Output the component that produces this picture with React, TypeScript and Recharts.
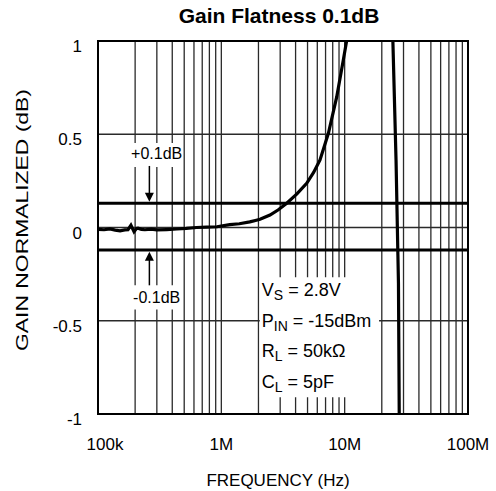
import { LineChart, Line, XAxis, YAxis, CartesianGrid, ReferenceLine, ReferenceArea } from 'recharts'

// frequency (Hz) and normalized gain (dB)
const freqHz = [
  1.0e5, 1.12e5, 1.25e5, 1.38e5, 1.51e5, 1.65e5, 1.75e5, 1.85e5, 1.96e5, 2.05e5, 2.11e5, 2.25e5,
  2.4e5, 2.7e5, 3.0e5, 3.6e5, 4.35e5, 5.2e5, 6.3e5, 7.6e5, 9.2e5, 1.17e6, 1.4e6, 1.7e6, 2.06e6,
  2.48e6, 2.9e6, 3.39e6, 4.1e6, 4.92e6, 5.6e6, 6.31e6, 7.38e6, 8.62e6, 9.75e6, 1.04e7, 1.3e7,
  1.7e7, 2.2e7, 2.46e7, 2.61e7, 2.73e7, 2.77e7, 2.8e7,
]
const gainDb = [
  -0.01, -0.012, -0.008, -0.014, -0.018, -0.013, -0.012, 0.012, -0.022, -0.005, -0.004, -0.01,
  -0.012, -0.009, -0.013, -0.011, -0.008, -0.005, 0.0, 0.002, 0.004, 0.015, 0.02, 0.03, 0.044,
  0.067, 0.095, 0.13, 0.18, 0.237, 0.295, 0.362, 0.505, 0.7, 0.898, 1.005, 1.5,
  1.9, 1.8, 1.0, 0.36, -0.3, -1.0, -1.3,
]

// x grid: every 1..9 per decade
const gridFreqs = [
  1e5, 2e5, 3e5, 4e5, 5e5, 6e5, 7e5, 8e5, 9e5,
  1e6, 2e6, 3e6, 4e6, 5e6, 6e6, 7e6, 8e6, 9e6,
  1e7, 2e7, 3e7, 4e7, 5e7, 6e7, 7e7, 8e7, 9e7, 1e8,
]
const decadeFreqs = [1e5, 1e6, 1e7, 1e8]
const decadeLabels = ['100k', '1M', '10M', '100M']
const yTicks = [-1, -0.5, 0, 0.5, 1]
const limitDb = [0.13, -0.12]

const data = freqHz.map((f, i) => ({ f, g: gainDb[i] }))

const FONT = '"Liberation Sans", Arial, sans-serif'

const XTick = (p: any) => {
  const i = decadeFreqs.indexOf(p.payload.value)
  if (i < 0) return null
  return (
    <text x={p.x + (i === 0 ? 7 : 0)} y={p.y} dy={28} textAnchor="middle" fontSize={17} fontFamily={FONT} fill="#000">
      {decadeLabels[i]}
    </text>
  )
}

const YTick = (p: any) => (
  <text x={p.x} y={p.y} dy={11} textAnchor="end" fontSize={17} fontFamily={FONT} fill="#000">
    {p.payload.value}
  </text>
)

const Arrow = (p: any) => {
  const { x1, y1, x2, y2 } = p
  const dir = y2 > y1 ? 1 : -1
  return (
    <g>
      <line x1={x1} y1={y1} x2={x2} y2={y2 - dir * 6} stroke="#000" strokeWidth={1.5} />
      <polygon points={`${x2 - 4.5},${y2 - dir * 9} ${x2 + 4.5},${y2 - dir * 9} ${x2},${y2}`} fill="#000" />
    </g>
  )
}

const CondBox = (p: any) => {
  const { x, y } = p.viewBox
  const fs = 18
  const sub = 14
  const rows: [string, string, string][] = [
    ['V', 'S', ' = 2.8V'],
    ['P', 'IN', ' = -15dBm'],
    ['R', 'L', ' = 50kΩ'],
    ['C', 'L', ' = 5pF'],
  ]
  const base = [19, 49.7, 79.7, 111]
  return (
    <g fontFamily={FONT} fill="#000">
      {rows.map((r, i) => (
        <text key={i} x={x + 2} y={y + base[i]} fontSize={fs}>
          {r[0]}
          <tspan fontSize={sub} dy={4}>{r[1]}</tspan>
          <tspan dy={-4}>{r[2]}</tspan>
        </text>
      ))}
    </g>
  )
}

const LimitText = (txt: string, base: number) => (p: any) => {
  const { x, y, width } = p.viewBox
  return (
    <text x={x + width / 2} y={y + base} textAnchor="middle" fontSize={16} fontFamily={FONT} fill="#000">
      {txt}
    </text>
  )
}

const YLabel = () => {
  const cx = 22
  const cy = 220
  return (
    <text
      x={cx}
      y={cy}
      transform={`rotate(-90 ${cx} ${cy})`}
      textAnchor="middle"
      dominantBaseline="central"
      fontSize={17}
      fontFamily={FONT}
      fill="#000"
      textLength={262}
      lengthAdjust="spacingAndGlyphs"
    >
      GAIN NORMALIZED (dB)
    </text>
  )
}

export default function App() {
  return (
    <div style={{ position: 'absolute', left: 0, top: 0, width: 496, height: 491, background: '#fff' }}>
      <div
        style={{
          position: 'absolute',
          left: 0,
          top: 5,
          width: 558,
          textAlign: 'center',
          fontFamily: FONT,
          fontWeight: 'bold',
          fontSize: 21,
          lineHeight: '21px',
        }}
      >
        Gain Flatness 0.1dB
      </div>
      <div
        style={{
          position: 'absolute',
          left: 0,
          top: 472,
          width: 556,
          textAlign: 'center',
          fontFamily: FONT,
          fontSize: 17,
          lineHeight: '17px',
        }}
      >
        FREQUENCY (Hz)
      </div>
      <LineChart width={496} height={491} data={data} margin={{ top: 41, right: 28, bottom: 0, left: 0 }}>
        <CartesianGrid stroke="#2a2a2a" strokeWidth={1.3} />
        <XAxis
          dataKey="f"
          type="number"
          scale="log"
          domain={[1e5, 1e8]}
          ticks={gridFreqs}
          interval={0}
          tick={<XTick />}
          tickLine={false}
          axisLine={false}
          height={77}
          allowDataOverflow
        />
        <YAxis
          type="number"
          domain={[-1, 1]}
          ticks={yTicks}
          width={98}
          tick={<YTick />}
          tickLine={false}
          axisLine={false}
          tickMargin={10}
          allowDataOverflow
          label={{ content: <YLabel /> }}
        />
        <ReferenceArea x1={2.05e6} x2={1.9e7} y1={-0.91} y2={-0.267} fill="#fff" fillOpacity={1} stroke="none" label={{ content: <CondBox /> }} />
        <ReferenceArea x1={1.9e5} x2={4.7e5} y1={0.325} y2={0.453} fill="#fff" fillOpacity={1} stroke="none" label={{ content: LimitText('+0.1dB', 16) }} />
        <ReferenceArea x1={1.9e5} x2={4.7e5} y1={-0.44} y2={-0.31} fill="#fff" fillOpacity={1} stroke="none" label={{ content: LimitText('-0.1dB', 18) }} />
        {limitDb.map((v) => (
          <ReferenceLine key={v} y={v} stroke="#000" strokeWidth={3} />
        ))}
        <ReferenceLine segment={[{ x: 2.61e5, y: 0.33 }, { x: 2.61e5, y: 0.138 }]} shape={<Arrow />} />
        <ReferenceLine segment={[{ x: 2.61e5, y: -0.31 }, { x: 2.61e5, y: -0.13 }]} shape={<Arrow />} />
        <ReferenceArea x1={1e5} x2={1e8} y1={-1} y2={1} fill="none" stroke="#000" strokeWidth={2} />
        <Line dataKey="g" type="linear" stroke="#000" strokeWidth={3.2} dot={false} isAnimationActive={false} />
      </LineChart>
    </div>
  )
}
